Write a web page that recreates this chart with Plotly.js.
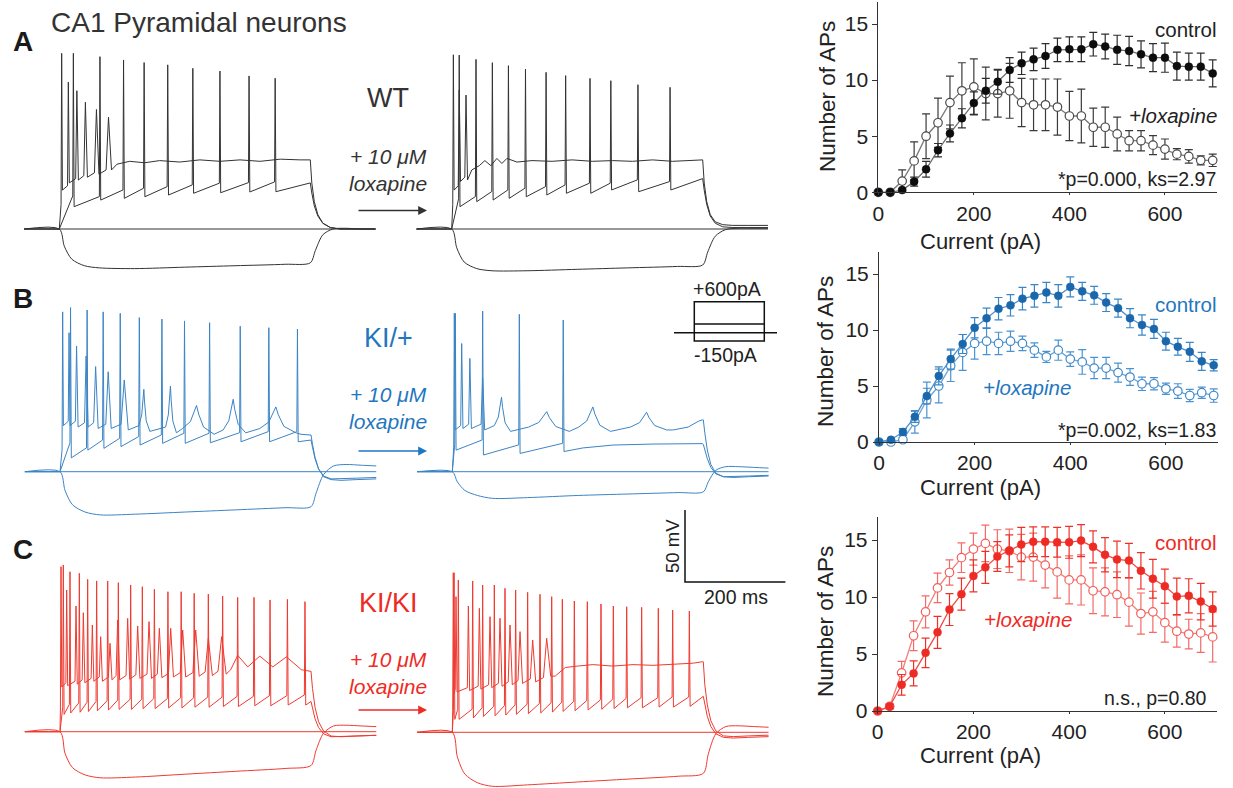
<!DOCTYPE html>
<html>
<head>
<meta charset="utf-8">
<script src="https://cdn.plot.ly/plotly-3.0.1.min.js"></script>
<style>html,body{margin:0;padding:0;background:#fff;}#chart{width:1233px;height:788px;}</style>
</head>
<body>
<div id="chart"></div>
<script>
// ---------------- F-I curves (Number of APs vs injected current) ----------------
const currents = [0,25,50,75,100,125,150,175,200,225,250,275,300,325,350,375,400,425,450,475,500,525,550,575,600,625,650,675,700];

const wtControl    = [0,0,0.2,0.95,2.05,3.75,5.25,6.6,7.95,9.05,9.85,10.9,11.5,11.85,12.15,12.7,12.75,12.75,13.2,13.0,12.7,12.6,12.3,12.0,12.0,11.25,11.2,11.2,10.6];
const wtControlSem = [0,0,0.1,0.4,0.7,0.6,0.75,0.85,1.0,1.1,1.1,1.1,1.0,1.0,1.1,1.05,1.1,1.1,1.05,1.1,1.3,1.3,1.2,1.25,1.3,1.25,1.2,1.2,1.2];
const wtLox        = [0,0,1.0,2.8,5.0,6.2,8.0,9.05,9.4,8.8,8.8,9.05,8.0,7.8,7.8,7.6,6.8,6.8,5.8,5.8,5.2,4.6,4.6,4.2,3.85,3.4,3.2,2.85,2.85];
const wtLoxSem     = [0,0,1.0,1.7,2.0,2.2,2.35,2.5,2.5,2.35,2.1,2.45,2.15,2.3,2.3,2.5,2.2,2.4,1.7,1.8,1.5,0.9,0.9,0.85,0.9,0.5,0.6,0.4,0.55];

const hetControl    = [0,0.2,0.9,2.25,4.1,5.9,7.4,8.75,10.2,11.05,11.9,12.2,12.8,13.05,13.35,13.05,13.85,13.45,13.1,12.45,11.95,11.05,10.45,10.1,9.0,8.5,8.05,7.2,6.85];
const hetControlSem = [0,0.1,0.3,0.5,0.7,0.8,0.9,0.85,0.9,0.9,1.0,0.95,1.0,1.0,0.9,1.0,0.9,0.8,0.8,0.8,0.8,0.85,0.9,0.85,0.8,0.75,0.85,0.8,0.5];
const hetLox        = [0,0,0.2,1.8,3.75,5.0,6.8,8.0,8.8,9.0,8.8,9.0,8.8,8.2,7.6,8.2,7.4,7.15,6.6,6.6,6.2,5.8,5.2,5.2,4.75,4.55,4.15,4.4,4.15];
const hetLoxSem     = [0,0,0.2,1.0,1.6,1.5,1.4,1.6,1.4,1.2,1.0,0.9,0.65,0.65,0.5,0.9,0.65,1.1,0.95,0.95,0.85,0.75,0.6,0.55,0.5,0.65,0.55,0.5,0.6];

const homControl    = [0,0.4,2.3,3.3,5.1,6.9,8.9,10.25,11.85,12.6,13.55,14.05,14.6,14.85,14.85,14.8,14.8,14.95,14.4,13.7,13.3,13.2,12.3,11.6,10.95,10.05,10.1,9.6,8.95];
const homControlSem = [0,0.2,0.9,1.1,1.3,1.4,1.4,1.4,1.4,1.4,1.3,1.4,1.5,1.3,1.3,1.3,1.4,1.4,1.4,1.5,1.6,1.5,1.6,1.7,1.5,1.6,1.5,1.6,1.5];
const homLox        = [0,0.4,3.35,6.6,8.7,10.8,12.15,13.45,14.2,14.7,14.2,14.05,13.5,13.5,12.8,12.2,11.5,11.5,10.55,10.45,10.2,9.55,8.55,8.7,7.75,7.0,6.75,6.85,6.5];
const homLoxSem     = [0,0.2,1.0,1.3,1.4,1.3,1.1,1.3,1.4,1.6,1.7,1.9,2.0,2.1,2.0,2.3,2.1,2.2,2.0,2.1,2.0,2.1,1.8,1.8,1.7,1.4,1.3,1.7,2.2];

const fiXTicks = [0,200,400,600];
const fiYTicks = [0,5,10,15];

// ---------------- Example voltage traces (ms, mV) ----------------
const restMV = -65;
const hypTimes  = [-70,0,10,25,50,80,150,250,350,450,500,510,525,545,570,600,630];
const tailTimes = [500,503,508,515,525,540,560,590,630];
const zeroTimes = [-70,630];
const zeroMV    = [-65,-65];

// A: WT control
const wtCtlHypV  = [-65,-65,-77,-86,-90.5,-92,-92.5,-91.5,-90.5,-89.5,-88.5,-80,-69,-65,-64.5,-65,-65];
const wtCtlHiT   = [4.7,18,35,52,74,98];
const wtCtlHiPk  = [57,37,31,23,18,12.6];
const wtCtlHiTr  = [-38,-33,-31,-29,-27,-24];
const wtCtlHiW   = [1.5,2,3,4,5,6];
const wtCtlPlatT = [115,140,170,200,240,280,320,360,400,440,480,498];
const wtCtlPlatV = [-20,-18,-19,-17.5,-18.5,-17,-18,-17,-18,-16.5,-17,-17];
const wtCtlModT  = [28,81,128,169,216,266,320,378,430];
const wtCtlModPk = [57,54.7,52.4,50.6,49,46.6,44.7,41.3,39.7];
const wtCtlModTr = [-49.5,-44.9,-43.7,-42.6,-41.4,-40.2,-39.8,-39.3,-39.1];
const wtCtlHiTail  = [-17,-33,-46,-55,-61,-64,-65,-65,-65];
const wtCtlModTail = [-33,-40,-49,-56,-61,-64,-65,-65,-65];
const wtCtlOnset = [-48,-42];

// A: WT + loxapine
const wtLoxHypV  = [-65,-65,-78,-88,-92.5,-94,-94,-93,-92,-91,-90,-81,-70,-65.5,-64.5,-64.5,-64.5];
const wtLoxHiT   = [3.3,15,28.5];
const wtLoxHiPk  = [56,31.5,28];
const wtLoxHiTr  = [-38,-32,-31];
const wtLoxHiW   = [1.5,2.5,3];
const wtLoxPlatT = [40,55,66,78,90,100,110,130,160,200,240,280,320,360,400,440,480,498];
const wtLoxPlatV = [-24,-21,-17.5,-21,-16,-19.5,-16,-18.5,-17.5,-18,-17,-18,-17.5,-18,-17,-18,-17.5,-17];
const wtLoxModT  = [15,48.4,81,113,147,188,227,275.5,317,371,435];
const wtLoxModPk = [55.8,52.8,50.5,48.4,46.1,43.8,41.5,39.6,38,35.2,33.4];
const wtLoxModTr = [-49.5,-46,-44.9,-43.7,-42.6,-41.4,-40.2,-40.2,-37.9,-39.1,-37.9];
const wtLoxHiTail  = [-17,-33,-46,-55,-60,-62,-62.5,-62.5,-62.5];
const wtLoxModTail = [-30,-38,-48,-56,-61,-63.5,-64,-64,-64];
const wtLoxOnset = [-48,-44];

// B: KI/+ control
const hetCtlHypV  = [-65,-65,-78,-88,-93,-95,-94.5,-93,-91.5,-90,-89.3,-80,-67,-61,-60,-60.5,-61];
const hetCtlHiT   = [5.3,18,33,52,71,96,128,167,220,272,345,430];
const hetCtlHiPk  = [46,31.5,22.3,15.3,8,4.4,-1.3,-7.8,-5.5,-19,-14.7,-20];
const hetCtlHiTr  = [-33,-33,-34,-34,-35,-35,-36,-37,-38,-39,-38,-38];
const hetCtlHiW   = [1.5,2,3,4,5,6,8,12,12,35,25,40];
const hetCtlPlatT = [480,498];
const hetCtlPlatV = [-39,-39.5];
const hetCtlModT  = [21,54,86,120,158,203,248,298,359,416,473];
const hetCtlModPk = [49,47.3,46,45,42,41,39.7,38.5,36,35,34];
const hetCtlModTr = [-55.4,-50,-48.8,-47.6,-46.5,-45.3,-45.3,-44.9,-44.2,-44.2,-44.2];
const hetCtlHiTail  = [-39.5,-46,-55,-63,-68.5,-70.5,-71,-70.5,-70];
const hetCtlModTail = [-43,-48,-56,-63,-68,-70,-70,-69.5,-69];
const hetCtlOnset = [-50,-45];

// B: KI/+ + loxapine
const hetLoxHypV  = [-65,-65,-72,-78,-81.5,-83.5,-83,-81.5,-80.5,-79.5,-79,-72,-64,-61.5,-61.5,-62,-62.5];
const hetLoxHiT   = [4,18.7,35,60.5,98,188,280,387];
const hetLoxHiPk  = [45,24,13.7,0,-13.3,-23.3,-20,-23.7];
const hetLoxHiTr  = [-36,-35,-35,-36,-37,-37,-37,-36];
const hetLoxHiW   = [1.5,2.5,3,4,18,45,35,40];
const hetLoxPlatT = [440,470,490,498];
const hetLoxPlatV = [-36,-34,-30,-29];
const hetLoxModT  = [6,60.5,133.5,221];
const hetLoxModPk = [45,46.6,44.3,40.3];
const hetLoxModTr = [-50,-53.4,-52.3,-51];
const hetLoxModPlatT = [260,320,400,460,498];
const hetLoxModPlatV = [-48.5,-46.5,-45.8,-45.5,-45.5];
const hetLoxHiTail  = [-29,-38,-50,-60,-66,-68.5,-69,-68.5,-68];
const hetLoxModTail = [-46,-50,-56,-62,-66.5,-68.5,-68.5,-68,-67.5];
const hetLoxOnset = [-48,-46];

// C: KI/KI control
const homCtlHypV  = [-65,-65,-80,-90,-95,-97,-96.5,-94.5,-92.5,-90.5,-88.5,-78,-66,-61,-60.5,-61,-61.5];
const homCtlHiT   = [2,13.3,31.9,46.5,64.4,81,99.6,114.9,134.8,154.7,177.3,197.9,220.5,244.4,270.3,295.5,322];
const homCtlHiPk  = [49.6,33.4,22.3,17.6,9.1,1,-3.6,12.6,13.7,8.4,11.4,6.8,6.8,5.6,5.6,-0.1,1];
const homCtlHiTr  = [-34,-33,-32,-31,-30,-30,-29,-29,-28.5,-28,-28,-27.5,-27,-27,-26.5,-26,-25];
const homCtlHiW   = [1.5,2,2.5,3,3,3.5,4,4,4,4.5,5,5,5.5,6,7,8,9];
const homCtlPlatT = [340,354,374,398,424,451,481,498];
const homCtlPlatV = [-22,-12,-20,-12.5,-20,-13,-22,-23];
const homCtlModT  = [6.6,19.9,38.5,55.1,73,95,116.2,140.8,164,188,215,241.4,267.3,295.5,324,353.9,386.5,418.4,453,488];
const homCtlModPk = [50.8,46.1,45,40.8,39.7,39.7,38.5,36.9,35.7,33.9,32.2,32.2,31.1,30.6,29.2,28.3,28.3,26.5,26.9,25.3];
const homCtlModTr = [-53,-52,-51.5,-51,-50.5,-50,-49.5,-49.5,-49,-49,-48.5,-48.5,-48,-48,-47.5,-47.5,-47,-47,-46.5,-46.5];
const homCtlHiTail  = [-23,-35,-48,-58,-64.5,-68,-68.5,-68,-67.5];
const homCtlModTail = [-44,-49,-56,-62,-66.5,-68.5,-68.5,-68,-67.5];
const homCtlOnset = [-50,-48];

// C: KI/KI + loxapine
const homLoxHypV  = [-65,-65,-82,-94,-100,-102.5,-101.5,-99.5,-97.5,-95.5,-93.5,-80,-66,-61,-60.5,-61,-61.5];
const homLoxHiT   = [2,7.4,32,53.9,75.1,95,115,134.9,160.1,188];
const homLoxHiPk  = [45.8,29.2,22.7,21.1,15.3,14.2,9.5,4.9,-0.9,0.3];
const homLoxHiTr  = [-38,-37,-36,-35,-34,-33,-32,-31,-30,-26];
const homLoxHiW   = [1.5,2,2.5,3,3.5,4,4.5,5,6,8];
const homLoxPlatT = [205,225,250,280,320,360,400,440,480,498];
const homLoxPlatV = [-26,-20,-19,-18,-19,-18,-18.5,-18,-17,-16];
const homLoxModT  = [3.5,12,40.6,60.5,83.7,105,126.2,150.1,174.7,198,219.2,243.1,269,296.2,320.8,347.4,377.2,410.4,439,472.2];
const homLoxModPk = [45.8,40.8,40.1,37.3,37.3,35,33.8,32.2,30.8,29.2,27.4,26.2,25.7,24.1,22.7,22.2,21.8,21.1,19.9,19.2];
const homLoxModTr = [-56,-56,-55,-54,-53.5,-53,-52.5,-52,-51.5,-51,-50.5,-50,-49.5,-49,-48.5,-48,-48,-47.5,-47.5,-47];
const homLoxHiTail  = [-16,-32,-46,-57,-64,-67.5,-68,-67.5,-67];
const homLoxModTail = [-40,-46,-54,-61,-66,-68.5,-69,-68.5,-68];
const homLoxOnset = [-50,-50];

const scaleBarMs = 200;
const scaleBarMV = 50;

// ---------------- layout helpers ----------------
const W = 1233, H = 788;
const SX = 0.502;  // px per ms
const SY = 1.44;   // px per mV
const FONT = 'Liberation Sans, Arial, Helvetica, sans-serif';
const px = x => x / W;
const py = y => 1 - y / H;

// polyline of one sweep: rest, spikes (rise, peak, after-hyperpolarisation), plateau, tail
function buildSweep(spT, spPk, spTr, spW, onset, rise, platT, platV, tailV) {
  const t = [-70, 0], v = [restMV, restMV];
  for (let i = 0; i < spT.length; i++) {
    const w = spW ? spW[i] : 1.5;
    const pre = i === 0 ? onset : spTr[i - 1] + rise;
    t.push(spT[i] - 0.8 * w); v.push(pre);
    if (w >= 10) { // broad hump: rounded shoulders
      t.push(spT[i] - 0.35 * w); v.push(pre + 0.3 * (spPk[i] - pre));
      t.push(spT[i] - 0.1 * w);  v.push(pre + 0.8 * (spPk[i] - pre));
    }
    t.push(spT[i]); v.push(spPk[i]);
    if (w >= 10) {
      t.push(spT[i] + 0.12 * w); v.push(spTr[i] + 0.7 * (spPk[i] - spTr[i]));
      t.push(spT[i] + 0.4 * w);  v.push(spTr[i] + 0.25 * (spPk[i] - spTr[i]));
    }
    t.push(spT[i] + w); v.push(spTr[i]);
  }
  platT.forEach((x, i) => { t.push(x); v.push(platV[i]); });
  tailTimes.forEach((x, i) => { t.push(x); v.push(tailV[i]); });
  return {t, v};
}

const traces = [];
const layout = {
  width: W, height: H, autosize: false,
  margin: {l: 0, r: 0, t: 0, b: 0, pad: 0},
  paper_bgcolor: '#ffffff', plot_bgcolor: 'rgba(0,0,0,0)',
  showlegend: false,
  font: {family: FONT, color: '#222'},
  annotations: [], shapes: []
};

// ----- trace panels -----
const panels = [
  {id: 4, box: [20, 385, 25, 300],  org: [59.3, 229],   color: '#333333',
   hyp: wtCtlHypV, hi: [wtCtlHiT, wtCtlHiPk, wtCtlHiTr, wtCtlHiW, wtCtlPlatT, wtCtlPlatV, wtCtlHiTail],
   mod: [wtCtlModT, wtCtlModPk, wtCtlModTr, [], [], wtCtlModTail], onset: wtCtlOnset},
  {id: 5, box: [412, 775, 25, 300], org: [451.7, 229],  color: '#333333',
   hyp: wtLoxHypV, hi: [wtLoxHiT, wtLoxHiPk, wtLoxHiTr, wtLoxHiW, wtLoxPlatT, wtLoxPlatV, wtLoxHiTail],
   mod: [wtLoxModT, wtLoxModPk, wtLoxModTr, [], [], wtLoxModTail], onset: wtLoxOnset},
  {id: 6, box: [20, 385, 280, 540], org: [60, 471.7],   color: '#3b84c5',
   hyp: hetCtlHypV, hi: [hetCtlHiT, hetCtlHiPk, hetCtlHiTr, hetCtlHiW, hetCtlPlatT, hetCtlPlatV, hetCtlHiTail],
   mod: [hetCtlModT, hetCtlModPk, hetCtlModTr, [], [], hetCtlModTail], onset: hetCtlOnset},
  {id: 7, box: [412, 775, 280, 540], org: [452.3, 471.7], color: '#3b84c5',
   hyp: hetLoxHypV, hi: [hetLoxHiT, hetLoxHiPk, hetLoxHiTr, hetLoxHiW, hetLoxPlatT, hetLoxPlatV, hetLoxHiTail],
   mod: [hetLoxModT, hetLoxModPk, hetLoxModTr, hetLoxModPlatT, hetLoxModPlatV, hetLoxModTail], onset: hetLoxOnset},
  {id: 8, box: [20, 385, 545, 788], org: [60, 731.7],   color: '#ef3a30',
   hyp: homCtlHypV, hi: [homCtlHiT, homCtlHiPk, homCtlHiTr, homCtlHiW, homCtlPlatT, homCtlPlatV, homCtlHiTail],
   mod: [homCtlModT, homCtlModPk, homCtlModTr, [], [], homCtlModTail], onset: homCtlOnset},
  {id: 9, box: [412, 775, 545, 788], org: [452.3, 732.3], color: '#ef3a30',
   hyp: homLoxHypV, hi: [homLoxHiT, homLoxHiPk, homLoxHiTr, homLoxHiW, homLoxPlatT, homLoxPlatV, homLoxHiTail],
   mod: [homLoxModT, homLoxModPk, homLoxModTr, [], [], homLoxModTail], onset: homLoxOnset}
];

function hiddenAxes(id, box, org, v0) {
  layout['xaxis' + id] = {domain: [px(box[0]), px(box[1])],
    range: [(box[0] - org[0]) / SX, (box[1] - org[0]) / SX],
    visible: false, fixedrange: true, anchor: 'y' + id};
  layout['yaxis' + id] = {domain: [py(box[3]), py(box[2])],
    range: [v0 - (box[3] - org[1]) / SY, v0 + (org[1] - box[2]) / SY],
    visible: false, fixedrange: true, anchor: 'x' + id};
}

panels.forEach(p => {
  hiddenAxes(p.id, p.box, p.org, restMV);
  const xa = 'x' + p.id, ya = 'y' + p.id;
  const ln = {color: p.color, width: 1};
  traces.push({x: hypTimes, y: p.hyp, xaxis: xa, yaxis: ya, mode: 'lines', line: {color: p.color, width: 1, shape: 'spline', smoothing: 0.8}, hoverinfo: 'skip'});
  traces.push({x: zeroTimes, y: zeroMV, xaxis: xa, yaxis: ya, mode: 'lines', line: ln, hoverinfo: 'skip'});
  const m = buildSweep(p.mod[0], p.mod[1], p.mod[2], null, p.onset[1], 7, p.mod[3], p.mod[4], p.mod[5]);
  traces.push({x: m.t, y: m.v, xaxis: xa, yaxis: ya, mode: 'lines', line: ln, hoverinfo: 'skip'});
  const h = buildSweep(p.hi[0], p.hi[1], p.hi[2], p.hi[3], p.onset[0], 3, p.hi[4], p.hi[5], p.hi[6]);
  traces.push({x: h.t, y: h.v, xaxis: xa, yaxis: ya, mode: 'lines', line: ln, hoverinfo: 'skip'});
});

// scale bar (own axes, same ms / mV scale as the traces)
hiddenAxes(10, [670, 800, 500, 595], [685, 582], 0);
traces.push({x: [0, 0, scaleBarMs], y: [scaleBarMV, 0, 0], xaxis: 'x10', yaxis: 'y10', mode: 'lines',
  line: {color: '#111', width: 1.5}, hoverinfo: 'skip'});

// ----- F-I plots -----
const fiPanels = [
  {n: '', xd: [878.3, 1217], yd: [1.6, 192.3],
   ctl: wtControl, ctlSem: wtControlSem, lox: wtLox, loxSem: wtLoxSem,
   cFill: '#0d0d0d', cLine: '#6e6e6e', cErr: '#2e2e2e', oEdge: '#4a4a4a', oLine: '#7a7a7a', oErr: '#3a3a3a'},
  {n: '2', xd: [879, 1218], yd: [251.6, 442],
   ctl: hetControl, ctlSem: hetControlSem, lox: hetLox, loxSem: hetLoxSem,
   cFill: '#1a68ab', cLine: '#4f90cc', cErr: '#3a86c8', oEdge: '#3f89c9', oLine: '#6aa3d6', oErr: '#4a93d2'},
  {n: '3', xd: [877.7, 1217], yd: [517.2, 711],
   ctl: homControl, ctlSem: homControlSem, lox: homLox, loxSem: homLoxSem,
   cFill: '#ee2a24', cLine: '#ee4a42', cErr: '#ee3128', oEdge: '#f25e5a', oLine: '#f57f7a', oErr: '#f36a66'}
];

fiPanels.forEach(f => {
  const axStyle = {showline: true, linecolor: '#333', linewidth: 1, ticks: 'outside',
    tickwidth: 1, tickcolor: '#333', showgrid: false, zeroline: false, fixedrange: true,
    tickfont: {family: FONT, size: 21, color: '#222'}};
  layout['xaxis' + f.n] = Object.assign({}, axStyle, {domain: [px(f.xd[0]), px(f.xd[1])], range: [0, 709],
    ticklen: 2, tickvals: fiXTicks, ticktext: fiXTicks.map(String), anchor: 'y' + f.n});
  layout['yaxis' + f.n] = Object.assign({}, axStyle, {domain: [py(f.yd[1]), py(f.yd[0])], range: [0, 17],
    ticklen: 5, tickvals: fiYTicks, ticktext: fiYTicks.map(String), anchor: 'x' + f.n});
  const xa = 'x' + f.n, ya = 'y' + f.n;
  traces.push({x: currents, y: f.lox, xaxis: xa, yaxis: ya, mode: 'lines+markers', cliponaxis: false,
    line: {color: f.oLine, width: 1.3},
    marker: {symbol: 'circle', size: 8.5, color: '#ffffff', line: {color: f.oEdge, width: 1.2}},
    error_y: {type: 'data', array: f.loxSem, visible: true, color: f.oErr, thickness: 1.2, width: 4},
    hoverinfo: 'skip'});
  traces.push({x: currents, y: f.ctl, xaxis: xa, yaxis: ya, mode: 'lines+markers', cliponaxis: false,
    line: {color: f.cLine, width: 1.3},
    marker: {symbol: 'circle', size: 8, color: f.cFill, line: {color: f.cFill, width: 0.5}},
    error_y: {type: 'data', array: f.ctlSem, visible: true, color: f.cErr, thickness: 1.2, width: 4},
    hoverinfo: 'skip'});
});

// ----- text -----
function ann(text, x, y, o) {
  layout.annotations.push(Object.assign({text: text, xref: 'paper', yref: 'paper', x: px(x), y: py(y),
    showarrow: false, xanchor: 'center', yanchor: 'middle',
    font: {family: FONT, size: 20, color: '#222'}}, o || {}));
}
const BLUE = '#1f77c0', RED = '#ee2b24';

ann('CA1 Pyramidal neurons', 49, 23, {xanchor: 'left', font: {family: FONT, size: 28, color: '#333'}});
ann('<b>A</b>', 11, 42, {xanchor: 'left', font: {family: FONT, size: 28, color: '#1a1a1a'}});
ann('<b>B</b>', 11, 298, {xanchor: 'left', font: {family: FONT, size: 28, color: '#1a1a1a'}});
ann('<b>C</b>', 11, 549, {xanchor: 'left', font: {family: FONT, size: 28, color: '#1a1a1a'}});

const groups = [
  {label: 'WT', col: '#333', y: [98, 170, 210.5]},
  {label: 'KI/+', col: BLUE, y: [338, 408, 451]},
  {label: 'KI/KI', col: RED, y: [603, 672.5, 710]}
];
groups.forEach(g => {
  ann(g.label, 388, g.y[0], {font: {family: FONT, size: 27, color: g.col}});
  ann('<i>+ 10 μM</i><br><i>loxapine</i>', 388, g.y[1], {font: {family: FONT, size: 21, color: g.col}});
  layout.annotations.push({text: '', xref: 'paper', yref: 'paper', x: px(427), y: py(g.y[2]),
    ax: -70, ay: 0, showarrow: true, arrowhead: 2, arrowsize: 1.1, arrowwidth: 1.6, arrowcolor: g.col});
});

// stimulus inset
ann('+600pA', 727, 289, {font: {family: FONT, size: 19.5, color: '#222'}});
ann('-150pA', 726, 355, {font: {family: FONT, size: 19.5, color: '#222'}});
layout.shapes.push({type: 'rect', xref: 'paper', yref: 'paper', x0: px(694.3), x1: px(764.3), y0: py(341), y1: py(301.7), line: {color: '#111', width: 1.5}});
layout.shapes.push({type: 'line', xref: 'paper', yref: 'paper', x0: px(694.3), x1: px(764.3), y0: py(324), y1: py(324), line: {color: '#111', width: 1.5}});
layout.shapes.push({type: 'line', xref: 'paper', yref: 'paper', x0: px(674), x1: px(777), y0: py(332.7), y1: py(332.7), line: {color: '#111', width: 1.5}});

// scale bar labels
ann('50 mV', 672, 546, {textangle: -90, font: {family: FONT, size: 18.5, color: '#222'}});
ann('200 ms', 736, 597, {font: {family: FONT, size: 19.5, color: '#222'}});

// F-I axis titles and labels
const fiText = [
  {xt: [980, 242], yt: [828, 97], c: [29.5, '#222'], lox: [1219, 115.5, 'right'], stat: ['*p=0.000, ks=2.97', 1218, 179], col: '#222'},
  {xt: [980, 487], yt: [825, 352], c: [304.5, BLUE], lox: [1026.5, 387.5, 'center'], stat: ['*p=0.002, ks=1.83', 1218, 429.5], col: BLUE},
  {xt: [980, 755], yt: [825, 622], c: [542.5, RED], lox: [1027.5, 619.5, 'center'], stat: ['n.s., p=0.80', 1209, 697.5], col: RED}
];
fiText.forEach(t => {
  ann('Current (pA)', t.xt[0], t.xt[1], {font: {family: FONT, size: 22, color: '#222'}});
  ann('Number of APs', t.yt[0], t.yt[1], {textangle: -90, font: {family: FONT, size: 22.5, color: '#222'}});
  ann('control', 1219, t.c[0], {xanchor: 'right', font: {family: FONT, size: 20.5, color: t.c[1]}});
  ann('<i>+loxapine</i>', t.lox[0], t.lox[1], {xanchor: t.lox[2], font: {family: FONT, size: 20.5, color: t.col}});
  ann(t.stat[0], t.stat[1], t.stat[2], {xanchor: 'right', font: {family: FONT, size: 19.5, color: '#222'}});
});

Plotly.newPlot('chart', traces, layout, {staticPlot: true, displayModeBar: false});
</script>
</body>
</html>
